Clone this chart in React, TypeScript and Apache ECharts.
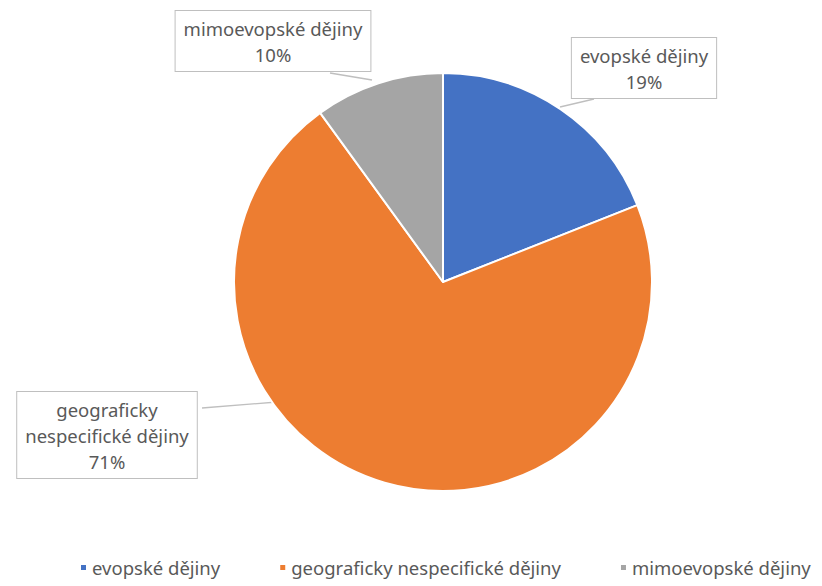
import React, { useEffect, useRef } from "react";
import * as echarts from "echarts";

const categories = ["evopské dějiny", "geograficky nespecifické dějiny", "mimoevopské dějiny"];
const values = [19, 71, 10];
const labelTexts = ["evopské dějiny", "geograficky\nnespecifické dějiny", "mimoevopské dějiny"];
const colors = ["#4472C4", "#ED7D31", "#A5A5A5"];

// label box centres and leader-line points (layout only)
const labelCenters = [
  [644, 68],
  [107, 435],
  [273, 41],
];
const leaderPoints = [
  [[560, 107], [594, 99]],
  [[277, 402], [202, 408]],
  [[372, 80], [330, 73]],
];

export default function App() {
  const ref = useRef<HTMLDivElement>(null);
  useEffect(() => {
    if (!ref.current) return;
    const chart = echarts.init(ref.current, null, { renderer: "svg" });
    chart.setOption({
      animation: false,
      backgroundColor: "#ffffff",
      textStyle: { fontFamily: "Noto Sans" },
      legend: {
        top: 558,
        left: 79,
        padding: 0,
        icon: "rect",
        itemWidth: 7,
        itemHeight: 7,
        itemGap: 58,
        textStyle: { fontSize: 18.5, color: "#595959", fontFamily: "Noto Sans" },
        data: categories,
      },
      series: [
        {
          type: "pie",
          center: [443, 282],
          radius: 209,
          startAngle: 90,
          clockwise: true,
          itemStyle: { borderColor: "#ffffff", borderWidth: 2 },
          label: {
            show: true,
            position: "outside",
            formatter: (p: any) => labelTexts[p.dataIndex] + "\n" + Math.round(p.percent) + "%",
            fontSize: 18.5,
            lineHeight: 26,
            color: "#595959",
            fontFamily: "Noto Sans",
            backgroundColor: "#ffffff",
            borderColor: "#bfbfbf",
            borderWidth: 1,
            padding: [4, 8, 4, 8],
            align: "center",
          },
          labelLine: {
            show: true,
            length: 10,
            length2: 10,
            lineStyle: { color: "#bfbfbf", width: 1.3 },
          },
          labelLayout: (params: any) => {
            const c = labelCenters[params.dataIndex];
            return {
              x: c[0],
              y: c[1],
              align: "center",
              verticalAlign: "middle",
              labelLinePoints: leaderPoints[params.dataIndex],
            };
          },
          data: categories.map((name, i) => ({
            name,
            value: values[i],
            itemStyle: { color: colors[i] },
          })),
        },
      ],
    });
    return () => chart.dispose();
  }, []);
  return (
    <div
      ref={ref}
      style={{ position: "fixed", left: 0, top: 0, width: 822, height: 586 }}
    />
  );
}
